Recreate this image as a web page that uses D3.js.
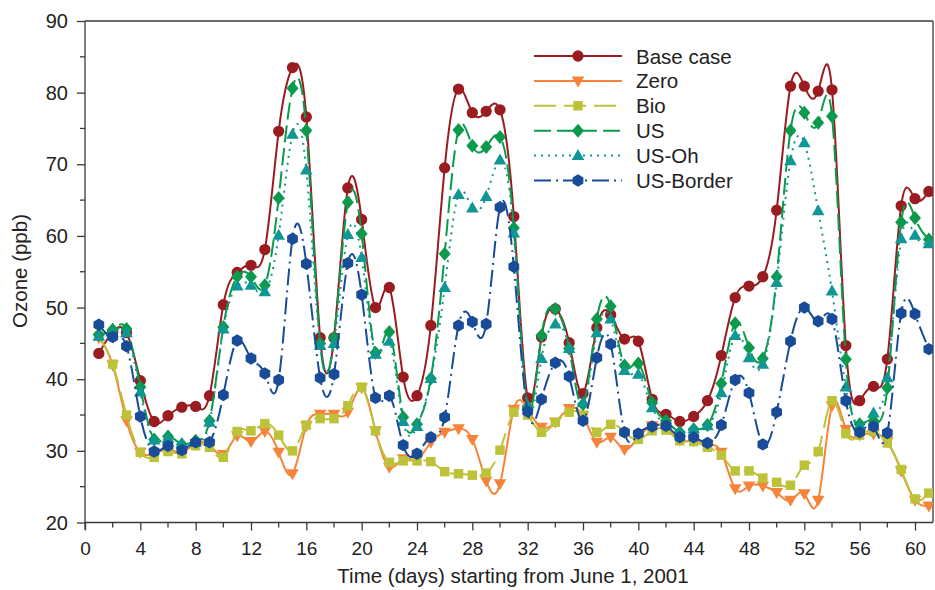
<!DOCTYPE html>
<html>
<head>
<meta charset="utf-8">
<script src="https://cdn.jsdelivr.net/npm/d3@7/dist/d3.min.js"></script>
<style>
  html, body { margin: 0; padding: 0; background: #fff; }
  svg { display: block; font-family: "Liberation Sans", Arial, sans-serif; }
</style>
</head>
<body>
<svg id="chart" width="935" height="590"></svg>
<script>
// Daily ozone (ppb), days 1..61 starting June 1, 2001
const days = d3.range(1, 62);

const baseCase = [43.6, 46.6, 46.5, 39.8, 34.1, 34.9, 36.1, 36.2, 37.7, 50.4,
  54.9, 55.9, 58.1, 74.6, 83.5, 76.6, 45.8, 45.8, 66.7, 62.3,
  50.0, 52.8, 40.3, 37.7, 47.5, 69.5, 80.5, 77.2, 77.4, 77.6,
  62.7, 37.4, 45.9, 49.8, 45.1, 38.0, 47.2, 49.0, 45.6, 45.3,
  37.2, 35.1, 34.1, 34.8, 37.0, 43.3, 51.4, 53.0, 54.3, 63.6,
  80.9, 80.9, 80.2, 80.4, 44.7, 37.0, 39.0, 42.8, 64.2, 65.2, 66.2];

const zero = [45.8, 42.0, 34.2, 29.8, 29.6, 30.2, 29.8, 31.0, 30.8, 29.5,
  32.1, 31.3, 32.7, 29.8, 26.8, 33.5, 35.1, 35.1, 35.4, 38.8,
  32.8, 27.7, 28.9, 28.8, 31.2, 32.6, 33.1, 31.6, 25.8, 25.4,
  35.8, 35.8, 33.3, 34.0, 35.9, 34.9, 31.2, 31.9, 30.2, 31.9,
  33.5, 33.3, 31.5, 31.4, 30.9, 29.8, 24.7, 25.1, 25.1, 24.2,
  23.1, 24.0, 23.1, 36.3, 33.0, 32.2, 32.4, 31.3, 27.2, 23.1, 22.3];

const bio = [46.0, 42.1, 35.0, 29.8, 29.1, 29.9, 29.6, 30.7, 30.5, 29.1,
  32.7, 32.8, 33.8, 32.2, 30.0, 33.6, 34.5, 34.5, 36.3, 38.9,
  32.8, 28.4, 28.6, 28.6, 28.5, 27.1, 26.8, 26.6, 26.9, 30.1,
  35.4, 35.0, 32.6, 34.0, 35.4, 35.0, 32.6, 33.7, 32.6, 31.6,
  32.8, 32.9, 31.4, 31.3, 30.5, 29.4, 27.2, 27.2, 26.2, 25.6,
  25.2, 28.0, 29.9, 37.0, 32.4, 32.2, 32.7, 31.1, 27.4, 23.3, 24.1];

const us = [46.2, 46.9, 47.0, 38.9, 31.6, 32.0, 30.9, 31.4, 34.2, 47.3,
  54.3, 54.3, 53.1, 65.3, 80.6, 74.7, 45.0, 45.8, 64.7, 60.3,
  43.7, 46.6, 34.7, 33.7, 40.1, 57.5, 74.8, 72.6, 72.4, 73.8,
  61.1, 36.1, 46.1, 49.8, 44.3, 36.5, 48.4, 50.2, 41.9, 42.2,
  36.7, 34.2, 32.6, 33.0, 33.6, 39.4, 47.8, 44.4, 42.9, 54.3,
  74.7, 77.2, 75.8, 76.7, 42.8, 33.7, 34.2, 38.8, 61.9, 62.5, 59.5];

const usOh = [46.0, 46.5, 46.5, 38.2, 31.5, 31.8, 31.0, 31.2, 34.0, 47.0,
  53.0, 53.1, 52.2, 60.1, 74.2, 69.2, 44.7, 45.0, 60.2, 57.0,
  43.5, 45.3, 34.1, 33.4, 40.1, 52.8, 65.8, 63.9, 65.5, 70.6,
  60.4, 36.3, 42.9, 47.7, 44.3, 36.7, 46.5, 48.4, 41.2, 40.7,
  36.0, 33.8, 32.6, 33.1, 33.5, 38.1, 46.1, 43.0, 42.1, 53.5,
  70.5, 73.0, 63.5, 52.3, 38.9, 33.5, 35.3, 40.2, 59.6, 60.1, 58.9];

const usBorder = [47.6, 45.9, 44.6, 34.8, 29.9, 30.7, 30.1, 31.2, 31.2, 37.8,
  45.4, 42.9, 40.8, 39.9, 59.6, 56.1, 40.2, 40.7, 56.2, 51.8,
  37.4, 37.7, 30.8, 29.6, 31.9, 34.7, 47.5, 48.0, 47.7, 64.0,
  55.7, 35.5, 37.2, 42.3, 40.4, 34.2, 43.0, 44.9, 32.6, 32.4,
  33.4, 33.5, 31.9, 31.9, 31.1, 33.6, 39.9, 38.1, 30.9, 35.4,
  45.3, 50.0, 48.1, 48.4, 37.0, 32.6, 33.4, 32.5, 49.2, 49.1, 44.2];

const seriesNames = ["Base case", "Zero", "Bio", "US", "US-Oh", "US-Border"];
const seriesValues = [baseCase, zero, bio, us, usOh, usBorder];
const seriesColors = ["#9a1c20", "#f5843a", "#bcc339", "#0b9a4c", "#109793", "#184b98"];
const seriesDash = [null, null, "22,8", "17,6", "2,5", "17,5,2,5"];
const seriesMarker = ["circle", "triDown", "square", "diamond", "triUp", "hexagon"];

const xTicksMajor = d3.range(0, 61, 4);
const xTicksMinor = d3.range(2, 61, 4);
const yTicksMajor = [20, 30, 40, 50, 60, 70, 80, 90];
const yTicksMinor = [25, 35, 45, 55, 65, 75, 85];

const xLabel = "Time (days) starting from June 1, 2001";
const yLabel = "Ozone (ppb)";

// ---- layout ----
const svg = d3.select("#chart");
const plotL = 85, plotR = 933, plotT = 21, plotB = 522.5;
const x = d3.scaleLinear().domain([0, 60]).range([plotL, 915]);
const y = d3.scaleLinear().domain([20, 90]).range([plotB, plotT]);
const axisColor = "#3a3a3a";

svg.append("defs").append("clipPath").attr("id", "plotClip")
  .append("rect").attr("x", plotL).attr("y", 0).attr("width", plotR - plotL).attr("height", plotB + 2);

// marker shapes
function markerPath(kind) {
  switch (kind) {
    case "circle": return d3.symbol(d3.symbolCircle, 100)();
    case "square": return d3.symbol(d3.symbolSquare, 90)();
    case "diamond": return "M0,-7L6,0L0,7L-6,0Z";
    case "triUp": return "M0,-6.5L6.3,4.5L-6.3,4.5Z";
    case "triDown": return "M0,6.5L6.3,-4.5L-6.3,-4.5Z";
    case "hexagon": {
      const r = 6.2;
      return d3.range(6).map((i, k) => {
        const a = Math.PI / 6 + i * Math.PI / 3;
        return (k ? "L" : "M") + (r * Math.cos(a)).toFixed(2) + "," + (r * Math.sin(a)).toFixed(2);
      }).join("") + "Z";
    }
  }
}

// ---- axes ----
const gAxes = svg.append("g").attr("stroke", axisColor).attr("stroke-width", 1.3);
// frame
gAxes.append("line").attr("x1", plotL).attr("x2", plotR).attr("y1", plotT).attr("y2", plotT);
gAxes.append("line").attr("x1", plotR).attr("x2", plotR).attr("y1", plotT).attr("y2", plotB);

const xAxis = d3.axisBottom(x).tickValues(xTicksMajor).tickSize(8).tickPadding(6).tickFormat(d3.format("d"));
const gx = svg.append("g").attr("transform", `translate(0,${plotB})`).call(xAxis);
gx.select(".domain").attr("d", `M${plotL},0H${plotR}`).attr("stroke", axisColor).attr("stroke-width", 1.3);
gx.selectAll(".tick line").attr("stroke", axisColor).attr("stroke-width", 1.3);
gx.selectAll(".tick text").attr("font-size", 19).attr("fill", "#222")
  .attr("font-family", "Liberation Sans, Arial, sans-serif").attr("dy", null).attr("y", 32);
gx.selectAll(".minor").data(xTicksMinor).enter().append("line")
  .attr("x1", d => x(d)).attr("x2", d => x(d)).attr("y1", 0).attr("y2", 5)
  .attr("stroke", axisColor).attr("stroke-width", 1.3);

const yAxis = d3.axisLeft(y).tickValues(yTicksMajor).tickSize(8).tickPadding(9).tickFormat(d3.format("d"));
const gy = svg.append("g").attr("transform", `translate(${plotL},0)`).call(yAxis);
gy.select(".domain").attr("d", `M0,${plotT}V${plotB + 7}`).attr("stroke", axisColor).attr("stroke-width", 1.3);
gy.selectAll(".tick line").attr("stroke", axisColor).attr("stroke-width", 1.3);
gy.selectAll(".tick text").attr("font-size", 20).attr("fill", "#222")
  .attr("font-family", "Liberation Sans, Arial, sans-serif").attr("dy", "0.33em");
gy.selectAll(".minor").data(yTicksMinor).enter().append("line")
  .attr("x1", -5).attr("x2", 0).attr("y1", d => y(d)).attr("y2", d => y(d))
  .attr("stroke", axisColor).attr("stroke-width", 1.3);

// axis titles
svg.append("text").attr("x", 513).attr("y", 583).attr("text-anchor", "middle")
  .attr("font-size", 20.5).attr("fill", "#222").text(xLabel);
svg.append("text").attr("transform", "translate(26.5,271) rotate(-90)").attr("text-anchor", "middle")
  .attr("font-size", 20.5).attr("fill", "#222").text(yLabel);

// ---- series ----
const plot = svg.append("g").attr("clip-path", "url(#plotClip)");
const line = d3.line().x((d, i) => x(days[i])).y(d => y(d)).curve(d3.curveNatural);

seriesValues.forEach((vals, s) => {
  const g = plot.append("g");
  g.append("path").datum(vals).attr("d", line)
    .attr("fill", "none").attr("stroke", seriesColors[s]).attr("stroke-width", 2)
    .attr("stroke-dasharray", seriesDash[s]).attr("stroke-linejoin", "round");
  g.selectAll("path.mk").data(vals).enter().append("path").attr("class", "mk")
    .attr("d", markerPath(seriesMarker[s]))
    .attr("transform", (d, i) => `translate(${x(days[i])},${y(d)})`)
    .attr("fill", seriesColors[s]);
});

// ---- legend ----
const legend = svg.append("g");
seriesNames.forEach((name, s) => {
  const cy = 56 + s * 24.9;
  legend.append("line").attr("x1", 534).attr("x2", 622).attr("y1", cy).attr("y2", cy)
    .attr("stroke", seriesColors[s]).attr("stroke-width", 2).attr("stroke-dasharray", seriesDash[s]);
  legend.append("path").attr("d", markerPath(seriesMarker[s]))
    .attr("transform", `translate(578,${cy})`).attr("fill", seriesColors[s]);
  legend.append("text").attr("x", 636).attr("y", cy + 7.5).attr("font-size", 20.5)
    .attr("fill", "#222").text(name);
});
</script>
</body>
</html>
